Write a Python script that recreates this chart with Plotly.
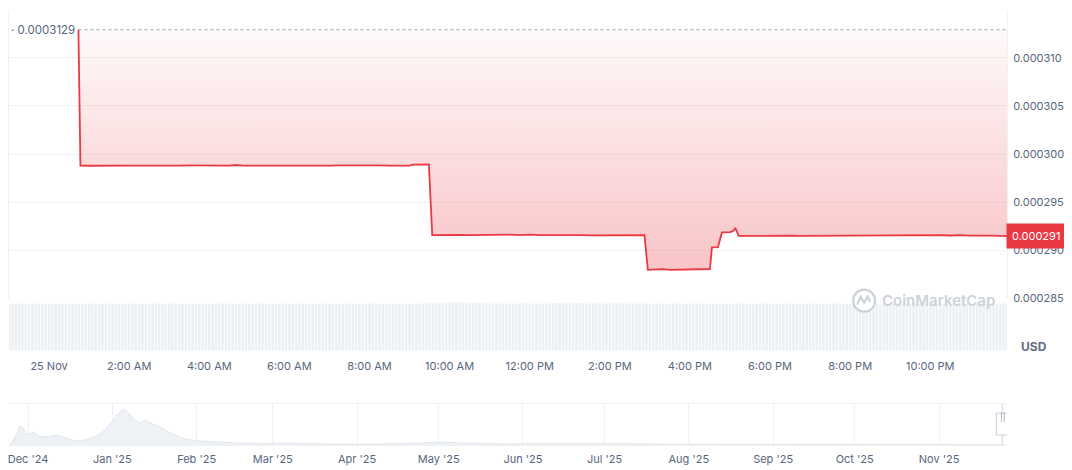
import plotly.graph_objects as go
import pandas as pd

# ---------------- data ----------------
DAY = "2025-11-25 "
price_clock = [
    "00:44", "00:47", "01:00", "01:15", "01:30", "01:45", "02:00", "02:15", "02:30", "02:45",
    "03:00", "03:15", "03:30", "03:45", "04:00", "04:15", "04:30", "04:40", "04:50", "05:00",
    "05:15", "05:30", "05:45", "06:00", "06:15", "06:30", "06:45", "07:00", "07:15", "07:30",
    "07:45", "08:00", "08:15", "08:30", "08:45", "09:00", "09:05", "09:15", "09:29", "09:34",
    "09:45", "10:00", "10:15", "10:30", "10:45", "11:00", "11:15", "11:30", "11:45", "12:00",
    "12:15", "12:30", "12:45", "13:00", "13:15", "13:30", "13:45", "14:00", "14:15", "14:30",
    "14:45", "14:52", "14:57", "15:10", "15:20", "15:30", "15:45", "16:00", "16:15", "16:25",
    "16:30", "16:33", "16:42", "16:48", "17:00", "17:05", "17:08", "17:13", "17:30", "17:45",
    "18:00", "18:15", "18:30", "18:45", "19:00", "19:15", "19:30", "19:45", "20:00", "20:15",
    "20:30", "20:45", "21:00", "21:15", "21:30", "21:45", "22:00", "22:15", "22:30", "22:45",
    "23:00", "23:15", "23:30", "23:45", "23:55",
]
prices = [
    0.00031290, 0.00029880, 0.00029878, 0.00029880, 0.00029879, 0.00029881, 0.00029880, 0.00029879, 0.00029881, 0.00029880,
    0.00029878, 0.00029880, 0.00029881, 0.00029879, 0.00029880, 0.00029882, 0.00029879, 0.00029886, 0.00029879, 0.00029880,
    0.00029879, 0.00029880, 0.00029881, 0.00029880, 0.00029879, 0.00029880, 0.00029881, 0.00029880, 0.00029882, 0.00029880,
    0.00029879, 0.00029880, 0.00029881, 0.00029880, 0.00029879, 0.00029880, 0.00029889, 0.00029890, 0.00029891, 0.00029158,
    0.00029160, 0.00029158, 0.00029161, 0.00029157, 0.00029159, 0.00029156, 0.00029160, 0.00029163, 0.00029158, 0.00029162,
    0.00029157, 0.00029159, 0.00029160, 0.00029161, 0.00029158, 0.00029156, 0.00029157, 0.00029159, 0.00029158, 0.00029160,
    0.00029157, 0.00029158, 0.00028797, 0.00028800, 0.00028805, 0.00028798, 0.00028801, 0.00028799, 0.00028801, 0.00028804,
    0.00028806, 0.00029030, 0.00029034, 0.00029186, 0.00029188, 0.00029200, 0.00029232, 0.00029150, 0.00029152, 0.00029150,
    0.00029153, 0.00029151, 0.00029152, 0.00029150, 0.00029151, 0.00029149, 0.00029150, 0.00029152, 0.00029151, 0.00029153,
    0.00029152, 0.00029154, 0.00029153, 0.00029155, 0.00029154, 0.00029156, 0.00029155, 0.00029157, 0.00029154, 0.00029158,
    0.00029153, 0.00029155, 0.00029152, 0.00029150, 0.00029148,
]
volume_start = "2025-11-24 23:00"
volume_values = [
    93, 94, 93, 95, 94, 93, 94, 94, 95, 93, 94, 94,
    94, 93, 95, 94, 94, 93, 94, 95, 94, 93, 94, 94,
    95, 94, 93, 94, 94, 95, 94, 93, 94, 95, 94, 93,
    94, 94, 95, 93, 94, 94, 93, 94, 95, 94, 94, 93,
    94, 95, 94, 94, 93, 94, 94, 95, 94, 93, 94, 94,
    93, 94, 94, 95, 94, 94, 95, 94, 93, 94, 94, 95,
    94, 93, 94, 94, 95, 94, 93, 94, 94, 94, 95, 94,
    94, 94, 93, 94, 95, 94, 94, 93, 94, 94, 95, 94,
    93, 94, 94, 94, 93, 94, 95, 94, 94, 93, 94, 94,
    94, 95, 94, 93, 94, 94, 94, 95, 94, 93, 94, 94,
    94, 94, 95, 94, 94, 95, 96, 95, 94, 95, 96, 95,
    96, 97, 96, 96, 97, 96, 95, 96, 96, 95, 95, 94,
    95, 94, 94, 95, 94, 94, 95, 94, 94, 95, 94, 95,
    94, 95, 94, 94, 95, 95, 94, 95, 96, 95, 95, 94,
    95, 94, 95, 95, 96, 95, 94, 95, 95, 94, 95, 94,
    95, 96, 95, 94, 95, 95, 94, 94, 95, 94, 94, 95,
    94, 94, 95, 94, 94, 93, 94, 94, 95, 94, 94, 94,
    94, 95, 94, 94, 95, 94, 93, 94, 94, 95, 94, 94,
    94, 93, 94, 95, 94, 94, 94, 93, 94, 94, 95, 94,
    94, 94, 93, 94, 94, 95, 94, 94, 93, 94, 94, 94,
    95, 94, 94, 93, 94, 94, 94, 95, 94, 94, 93, 94,
    94, 94, 95, 94, 93, 94, 94, 94, 95, 94, 94, 93,
    94, 95, 94, 94, 94, 93, 94, 95, 94, 94, 94, 94,
    93, 94, 94, 95, 94, 94, 93, 94, 94, 95, 94, 94,
    94, 94, 93, 94, 95, 94, 94, 93, 94, 94, 95, 94,
]
x_tick_clock = ["00:00", "02:00", "04:00", "06:00", "08:00", "10:00",
                "12:00", "14:00", "16:00", "18:00", "20:00", "22:00"]
x_tick_labels = ["25 Nov", "2:00 AM", "4:00 AM", "6:00 AM", "8:00 AM", "10:00 AM",
                 "12:00 PM", "2:00 PM", "4:00 PM", "6:00 PM", "8:00 PM", "10:00 PM"]
price_ticks = [0.000285, 0.000290, 0.000295, 0.000300, 0.000305, 0.000310]

nav_dates = [
    "2024-11-24", "2024-11-25", "2024-11-27", "2024-11-28", "2024-11-29", "2024-12-01",
    "2024-12-03", "2024-12-05", "2024-12-08", "2024-12-11", "2024-12-14", "2024-12-17",
    "2024-12-20", "2024-12-23", "2024-12-26", "2024-12-29", "2025-01-01", "2025-01-03",
    "2025-01-05", "2025-01-07", "2025-01-09", "2025-01-11", "2025-01-13", "2025-01-15",
    "2025-01-18", "2025-01-21", "2025-01-24", "2025-01-28", "2025-02-02", "2025-02-08",
    "2025-02-16", "2025-02-25", "2025-03-05", "2025-03-20", "2025-04-10", "2025-04-25",
    "2025-05-01", "2025-05-10", "2025-05-25", "2025-06-20", "2025-07-10", "2025-08-15",
    "2025-09-15", "2025-10-15", "2025-11-25",
]
nav_values = [
    0.5, 2, 12, 19, 17, 10,
    13, 9, 8, 10, 8, 5,
    4, 6, 9, 14, 24, 31,
    36, 32, 25, 22, 25, 22,
    19, 14, 10, 6, 4, 3,
    2, 1.5, 2, 1, 1, 2,
    3, 2, 1, 1.5, 1, 0.6,
    0.5, 0.4, 0.3,
]

# ---------------- styling ----------------
RED = "#ea3943"
GRID = "#eff2f5"
TEXT = "#58667e"
FONT = "Inter, Roboto, sans-serif"

price_times = pd.to_datetime([DAY + c for c in price_clock])
volume_times = pd.date_range(volume_start, periods=len(volume_values), freq="5min")
x_tick_times = pd.to_datetime([DAY + c for c in x_tick_clock])

# The page keeps the browser's default 8px body margin, so the figure is drawn
# at (8, 8) and is 1064 x 458.  Layout numbers below are window pixels.
BODY = 8
FIG_W, FIG_H = 1072 - BODY, 466 - BODY
PLOT_TOP, PLOT_BOTTOM = 10, 447
H = PLOT_BOTTOM - PLOT_TOP
def py(px):
    return 1 - (px - PLOT_TOP) / H

fig = go.Figure()

fig.add_trace(go.Bar(
    x=volume_times, y=volume_values, xaxis="x", yaxis="y2",
    marker=dict(color="#eceff3", line_width=0), hoverinfo="skip",
))
fig.add_trace(go.Scatter(
    x=[price_times[0], price_times[-1]], y=[prices[0], prices[0]],
    xaxis="x", yaxis="y", mode="lines",
    line=dict(color="#98a1b0", width=1, dash="dot"), hoverinfo="skip",
))
fig.add_trace(go.Scatter(
    x=price_times, y=prices, xaxis="x", yaxis="y", mode="lines",
    line=dict(color=RED, width=1.8),
    fill="tonexty",
    fillgradient=dict(
        type="vertical",
        colorscale=[[0, "rgba(234,57,67,0.30)"], [1, "rgba(234,57,67,0.03)"]],
        start=min(prices), stop=prices[0],
    ),
    hoverinfo="skip",
))
fig.add_trace(go.Scatter(
    x=nav_dates, y=nav_values, xaxis="x3", yaxis="y3", mode="lines",
    line=dict(color="#e2e6eb", width=1), fill="tozeroy", fillcolor="#eef1f5",
    hoverinfo="skip",
))

fig.update_layout(
    width=FIG_W, height=FIG_H,
    margin=dict(l=8 - BODY, r=65, t=PLOT_TOP - BODY, b=466 - PLOT_BOTTOM),
    paper_bgcolor="white", plot_bgcolor="white",
    showlegend=False, hovermode=False, bargap=0.25,
    font=dict(family=FONT, color=TEXT, size=12),
    xaxis=dict(
        domain=[0, 1], anchor="y2", type="date",
        range=["2025-11-24 23:00", "2025-11-25 23:55"],
        tickvals=x_tick_times, ticktext=x_tick_labels,
        showgrid=False, showline=False, zeroline=False, ticks="",
        tickfont=dict(size=11, color=TEXT), ticklabelstandoff=8,
    ),
    yaxis=dict(
        domain=[py(300), 1], anchor="x", side="right",
        range=[0.00028498, 0.00031495],
        tickvals=price_ticks, tickformat=".6f",
        showgrid=True, gridcolor=GRID, gridwidth=1,
        showline=True, mirror=True, linecolor=GRID,
        zeroline=False, ticks="", tickfont=dict(size=11, color=TEXT),
        ticklabelstandoff=3, automargin=False, ticklabeloverflow="allow",
    ),
    yaxis2=dict(domain=[py(352), py(302)], anchor="x", range=[0, 100], visible=False),
    xaxis3=dict(
        domain=[0, 1], anchor="y3", type="date",
        range=["2024-11-24", "2025-11-26"],
        tick0="2024-12-01", dtick="M1", tickformat="%b '%y",
        showgrid=True, gridcolor=GRID, showline=True, mirror=True, linecolor=GRID,
        zeroline=False, ticks="", tickfont=dict(size=11, color=TEXT),
        ticklabelstandoff=4, ticklabeloverflow="allow",
    ),
    yaxis3=dict(domain=[0, py(406)], anchor="x3", range=[0, 41], visible=False),
)

annotations = [
    dict(x=0, xref="paper", xanchor="left", y=prices[0], yref="y", yanchor="middle",
         text="· " + f"{prices[0]:.7f}", showarrow=False,
         font=dict(size=11.5, color=TEXT)),
    dict(x=1, xref="paper", xanchor="left", y=prices[-1], yref="y", yanchor="middle",
         text=f"{prices[-1]:.6f}", showarrow=False, bgcolor=RED, borderpad=5,
         font=dict(size=11, color="white"), xshift=-1),
    dict(x=1, xref="paper", xanchor="left", xshift=12, y=py(348), yref="paper",
         yanchor="middle", text="<b>USD</b>", showarrow=False,
         font=dict(size=12, color="#616e85")),
    dict(x=(880 - 8) / 999, xref="paper", xanchor="left", y=py(302), yref="paper",
         yanchor="middle", text="CoinMarketCap", showarrow=False,
         font=dict(size=15, color="#cdd2da", weight=600)),
    dict(x=nav_dates[-1], xref="x3", xshift=-2, y=py(426), yref="paper", text="||",
         showarrow=False, font=dict(size=8, color="#8a94a6")),
]
shapes = [
    dict(type="circle", xref="paper", yref="paper", xsizemode="pixel", ysizemode="pixel",
         xanchor=(864 - 8) / 999, yanchor=py(302), x0=-11, x1=11, y0=-11, y1=11,
         line=dict(color="#cdd2da", width=2.2), fillcolor="white"),
    dict(type="path", xref="paper", yref="paper", xsizemode="pixel", ysizemode="pixel",
         xanchor=(864 - 8) / 999, yanchor=py(302),
         path="M -7,-4 L -3.5,4 L 0,-2 L 3.5,4 L 6,-1",
         line=dict(color="#cdd2da", width=2.2)),
    dict(type="line", xref="x3", yref="paper", xsizemode="pixel", xanchor=nav_dates[-1],
         x0=-2, x1=-2, y0=0, y1=py(406), line=dict(color="#cfd6e0", width=1)),
    dict(type="rect", xref="x3", yref="paper", xsizemode="pixel", xanchor=nav_dates[-1],
         x0=-8, x1=4, y0=py(437), y1=py(415), fillcolor="white",
         line=dict(color="#c9d0da", width=1)),
]
fig.update_layout(annotations=annotations, shapes=shapes)

fig.write_html(
    "out.html",
    config={"displayModeBar": False},
    post_script="document.body.style.overflow='hidden';",
)
